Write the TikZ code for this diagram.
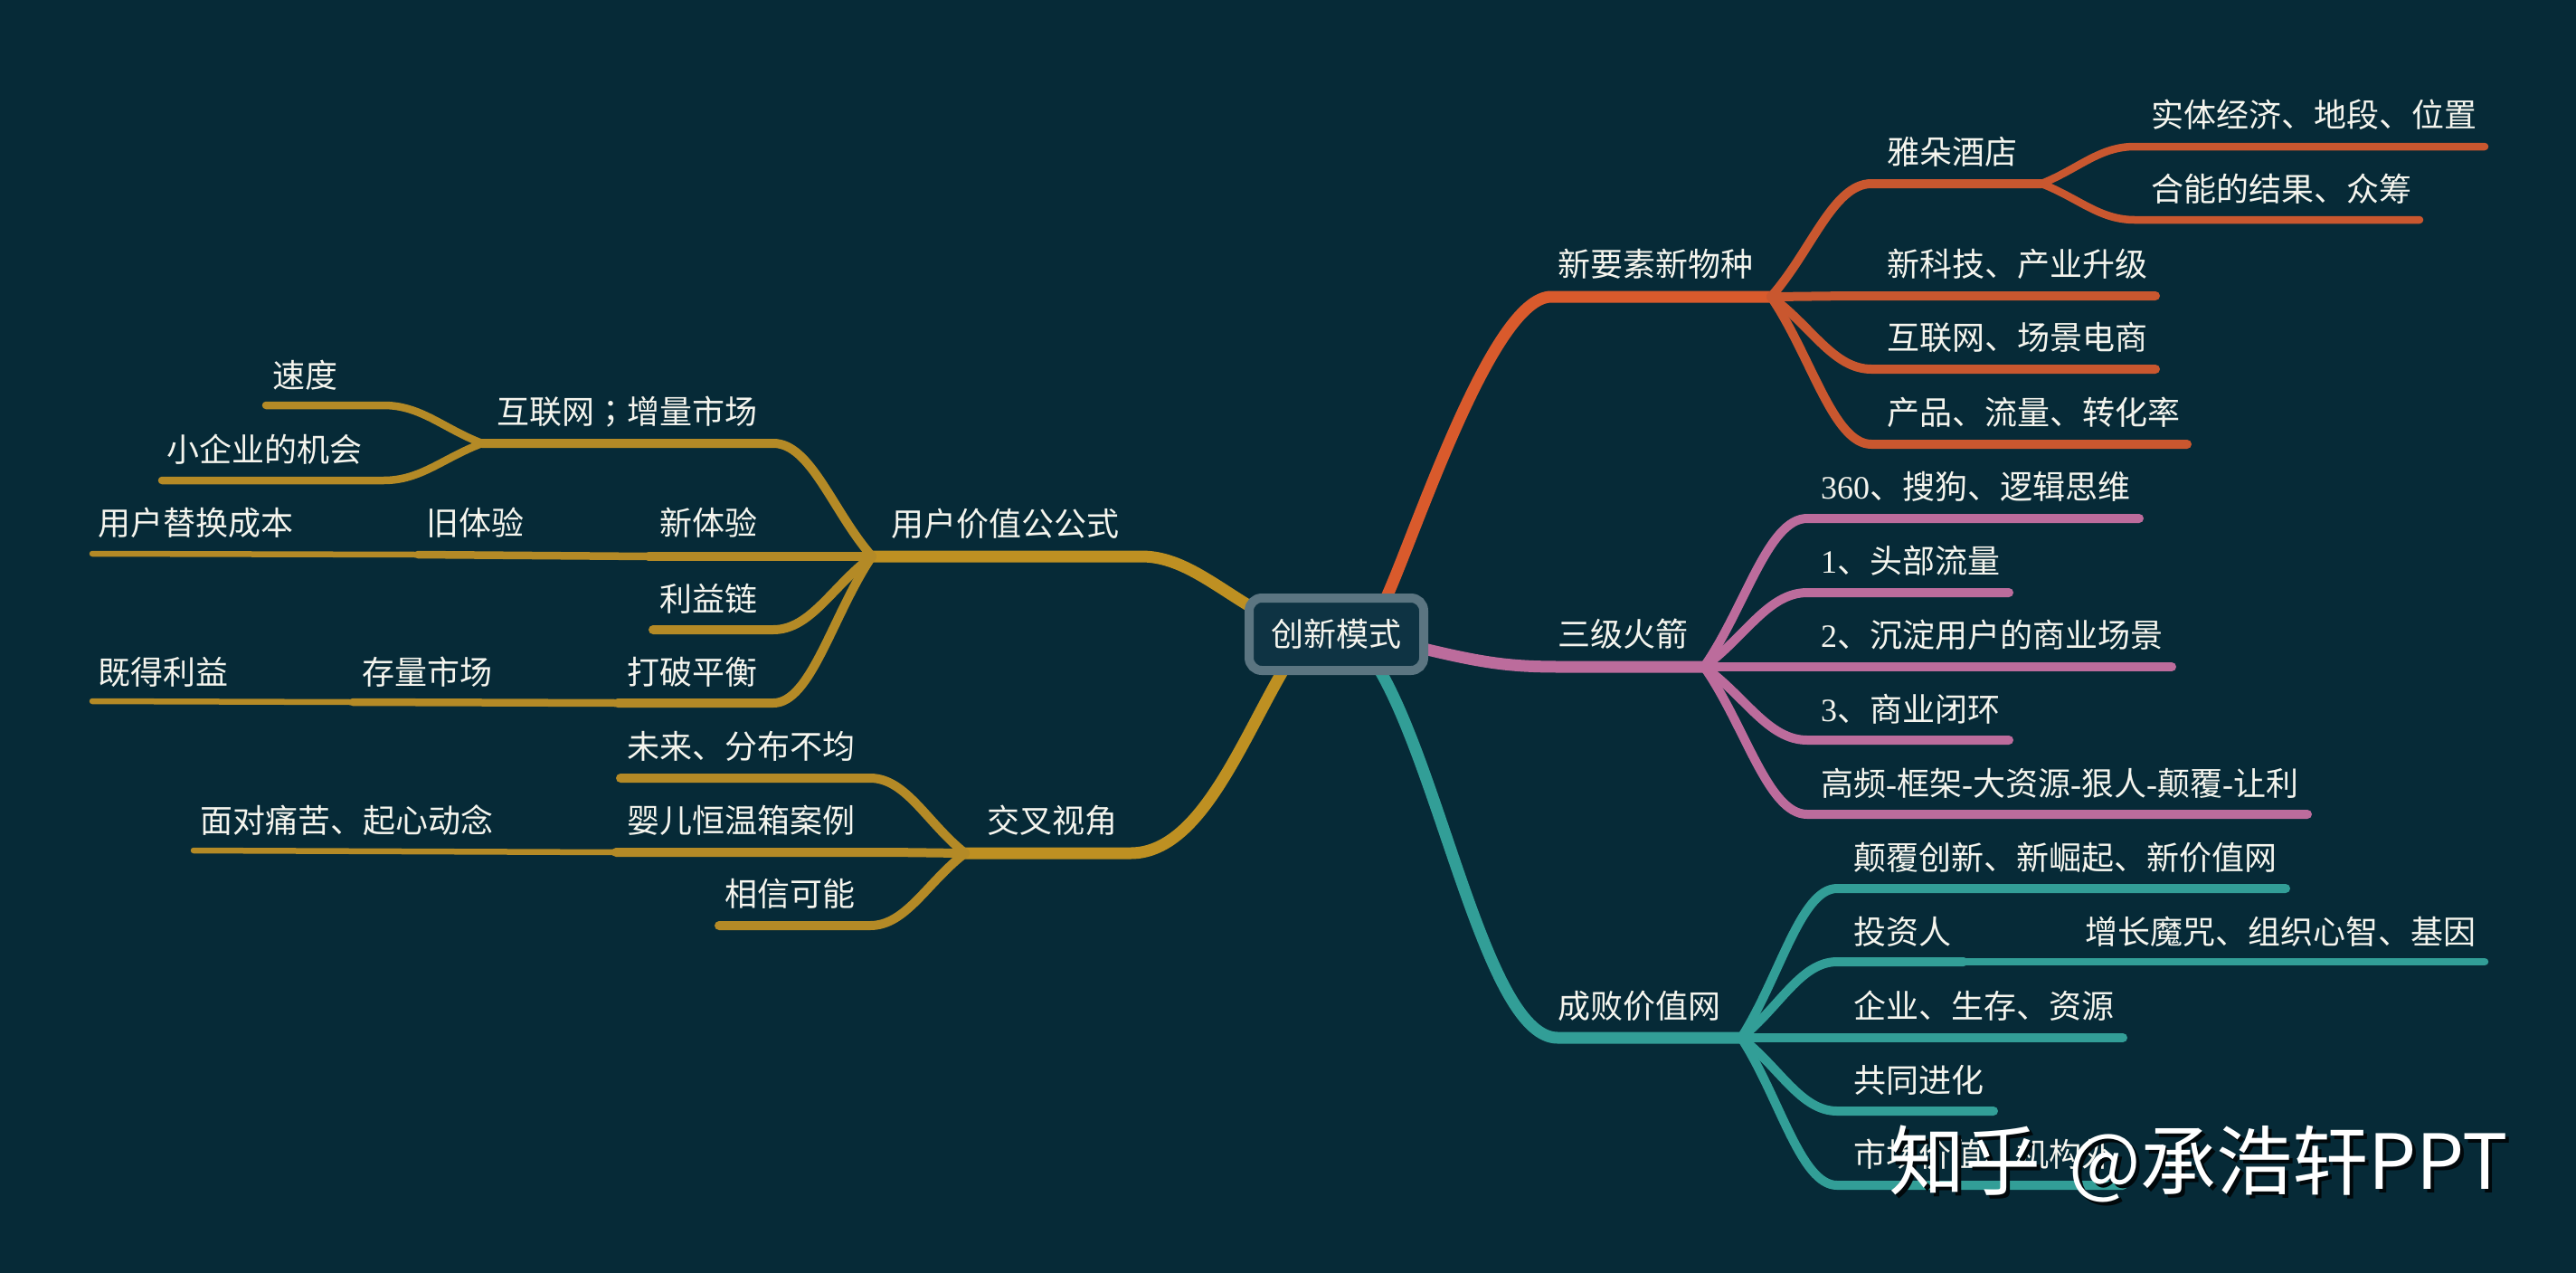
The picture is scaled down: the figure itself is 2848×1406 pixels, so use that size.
\documentclass[tikz,border=0pt]{standalone}
\usepackage{fontspec}
\usetikzlibrary{calc}
\setmainfont{Noto Sans CJK SC}
\newfontfamily\lat{Liberation Serif}
\newfontfamily\tcf{Noto Sans CJK TC}
\definecolor{bgc}{HTML}{062A37}
\definecolor{boxf}{HTML}{0E3343}
\definecolor{boxd}{HTML}{5B7581}
\definecolor{oran}{HTML}{C9572F}
\definecolor{oranm}{HTML}{D95A2C}
\definecolor{pink}{HTML}{BC6C9C}
\definecolor{teal2}{HTML}{329E97}
\definecolor{gold}{HTML}{B48A26}
\definecolor{goldm}{HTML}{BE9022}
\definecolor{txtc}{HTML}{F5F5EE}
\tikzset{
  lbl/.style={text=txtc,inner sep=0pt,font=\fontsize{36}{36}\selectfont,yshift=0pt},
  lw/.style={lbl,anchor=west,xshift=-1pt},
  le/.style={lbl,anchor=east,xshift=0pt},
  ln/.style={line cap=round,line join=round},
  mainl/.style={ln,line width=13pt},
  sub/.style={ln,line width=10pt},
  subb/.style={ln,line width=8.5pt},
  subc/.style={ln,line width=6.5pt},
  wm/.style={inner sep=0pt,anchor=west,font=\fontsize{84}{84}\selectfont}
}
% \leaf{style}{hub}{corner x}{end x}{y}{name}
\newcommand\leaf[6]{%
  \coordinate (#6c) at (#3,#5);
  \coordinate (#6e) at (#4,#5);
  \draw[#1] (#2) .. controls ($(#2)!.4!(#6c)$) and ($(#6c)!.38!(#2|-#6c)$) .. (#6c) -- (#6e);
}
\begin{document}
\begin{tikzpicture}[x=1pt,y=-1pt]
\useasboundingbox (0,0) rectangle (2848,1406);
\fill[bgc] (-5,-5) rectangle (2853,1411);

% hubs
\coordinate (hO) at (1958,328);
\coordinate (hO2) at (2257,203);
\coordinate (hP) at (1884,737);
\coordinate (hT) at (1925,1147);
\coordinate (hU) at (964,615);
\coordinate (hU2) at (533,490);
\coordinate (hX) at (1067,943);
\coordinate (bO) at (1532,662);
\coordinate (bP) at (1570,716);
\coordinate (bT) at (1525,740);
\coordinate (bU) at (1385,672);
\coordinate (bX) at (1418,742);

% main branches
\draw[mainl,oranm] (bO) .. controls (1565,590) and (1650,328) .. (1715,328) -- (hO);
\draw[mainl,pink] (bP) .. controls (1640,733) and (1670,737) .. (1725,737) -- (hP);
\draw[mainl,teal2] (bT) .. controls (1595,860) and (1645,1147) .. (1722,1147) -- (hT);
\draw[mainl,goldm] (hU) -- (1262,615) .. controls (1305,615) and (1340,645) .. (bU);
\draw[mainl,goldm] (hX) -- (1250,943) .. controls (1325,943) and (1370,825) .. (bX);

% orange
\begin{scope}[oran]
\leaf{sub}{hO}{2069}{2257}{203}{a}
\draw[sub] (ac) -- (hO2);
\leaf{subb}{hO2}{2360}{2747}{162}{aa}
\leaf{subb}{hO2}{2360}{2675}{243}{ab}
\leaf{sub}{hO}{2069}{2383}{327}{b}
\leaf{sub}{hO}{2069}{2383}{408}{c}
\leaf{sub}{hO}{2069}{2418}{491}{d}
\end{scope}
% pink
\begin{scope}[pink]
\leaf{sub}{hP}{1998}{2365}{573}{e}
\leaf{sub}{hP}{1998}{2221}{655}{f}
\leaf{sub}{hP}{1998}{2401}{737}{g}
\leaf{sub}{hP}{1998}{2221}{818}{h}
\leaf{sub}{hP}{1998}{2551}{900}{i}
\end{scope}
% teal
\begin{scope}[teal2]
\leaf{sub}{hT}{2031}{2527}{982}{j}
\leaf{sub}{hT}{2031}{2171}{1063}{k}
\coordinate (ke2) at (2747,1063);
\draw[subb] (ke) -- (ke2);
\leaf{sub}{hT}{2031}{2347}{1147}{l}
\leaf{sub}{hT}{2031}{2204}{1228}{m}
\leaf{sub}{hT}{2031}{2347}{1310}{n}
\end{scope}
% gold, user value
\begin{scope}[gold]
\leaf{sub}{hU}{855}{533}{490}{o}
\leaf{subb}{hU2}{424}{294}{448}{oa}
\leaf{subb}{hU2}{424}{179}{531}{ob}
\leaf{sub}{hU}{855}{717}{615}{p}
\coordinate (pe2) at (462,613);
\coordinate (pe3) at (102,612);
\draw[subb] (pe) -- (pe2);
\draw[subc] (pe2) -- (pe3);
\leaf{sub}{hU}{855}{722}{696}{q}
\leaf{sub}{hU}{855}{683}{777}{r}
\coordinate (re2) at (390,776);
\coordinate (re3) at (102,775);
\draw[subb] (re) -- (re2);
\draw[subc] (re2) -- (re3);
% gold, cross view
\leaf{sub}{hX}{962}{686}{860}{s}
\leaf{sub}{hX}{962}{681}{942}{t}
\coordinate (te2) at (214,940);
\draw[subc] (te) -- (te2);
\leaf{sub}{hX}{962}{795}{1023}{u}
\end{scope}

% centre
\node[draw=boxd,fill=boxf,line width=10pt,rounded corners=14pt,minimum width=193pt,minimum height=80pt,inner sep=0pt,text=txtc,font=\fontsize{36}{36}\selectfont] (root) at (1477.5,701) {创新模式};

% right labels
\node[lw] (t1) at (1723,292) {新要素新物种};
\node[lw] (t11) at (2087,168) {雅朵酒店};
\node[lw] (t111) at (2379,127) {实体经济、地段、位置};
\node[lw] (t112) at (2379,209) {合能的结果、众筹};
\node[lw] (t12) at (2087,292) {新科技、产业升级};
\node[lw] (t13) at (2087,373) {互联网、场景电商};
\node[lw] (t14) at (2087,456) {产品、流量、转化率};
\node[lw] (t2) at (1723,701) {三级火箭};
\node[lw] (t21) at (2014,538) {{\lat 360}、搜狗、逻辑思维};
\node[lw] (t22) at (2014,620) {{\lat 1}、头部流量};
\node[lw] (t23) at (2014,702) {{\lat 2}、沉淀用户的商业场景};
\node[lw] (t24) at (2014,784) {{\lat 3}、商业闭环};
\node[lw] (t25) at (2014,866) {高频{\lat -}框架{\lat -}大资源{\lat -}狠人{\lat -}颠覆{\lat -}让利};
\node[lw] (t3) at (1723,1112) {成败价值网};
\node[lw] (t31) at (2050,948) {颠覆创新、新崛起、新价值网};
\node[lw] (t32) at (2050,1030) {投资人};
\node[lw] (t321) at (2306,1030) {增长魔咒、组织心智、基因};
\node[lw] (t33) at (2050,1112) {企业、生存、资源};
\node[lw] (t34) at (2050,1194) {共同进化};
\node[lw] (t35) at (2050,1276) {市场价值、机构外};

% left labels
\node[le] (u1) at (1238,579) {用户价值公公式};
\node[le] (u11) at (838,455) {互联网{\tcf ；}增量市场};
\node[le] (u111) at (374,415) {速度};
\node[le] (u112) at (401,497) {小企业的机会};
\node[le] (u12) at (838,578) {新体验};
\node[le] (u121) at (580,578) {旧体验};
\node[le] (u122) at (325,578) {用户替换成本};
\node[le] (u13) at (838,662) {利益链};
\node[le] (u14) at (838,743) {打破平衡};
\node[le] (u141) at (545,743) {存量市场};
\node[le] (u142) at (253,743) {既得利益};
\node[le] (x1) at (1236,907) {交叉视角};
\node[le] (x11) at (946,825) {未来、分布不均};
\node[le] (x12) at (946,907) {婴儿恒温箱案例};
\node[le] (x121) at (546,907) {面对痛苦、起心动念};
\node[le] (x13) at (946,988) {相信可能};

% watermark
\node[wm,text=black!80!bgc] (wms) at (2092,1290) {知乎\hspace{31pt}@承浩轩PPT};
\node[wm,text=white] (wmk) at (2088,1286) {知乎\hspace{31pt}@承浩轩PPT};
\end{tikzpicture}
\end{document}
